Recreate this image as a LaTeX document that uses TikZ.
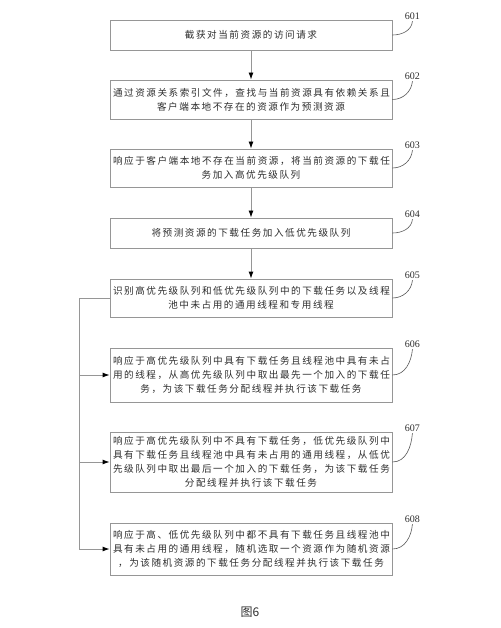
\documentclass[tikz,border=0pt]{standalone}
\usepackage{fontspec}
\setmainfont{Liberation Serif}
\newfontfamily\cjk[LetterSpace=16]{Noto Sans CJK SC}
\newfontfamily\cjkcap{Noto Sans CJK SC}
\usetikzlibrary{arrows.meta,positioning,calc}
\definecolor{boxgray}{RGB}{150,150,150}
\definecolor{inkgray}{RGB}{45,45,45}

\begin{document}
\begin{tikzpicture}[
    x=1pt, y=-1pt,
    stepbox/.style={draw=boxgray, line width=0.9pt, text=inkgray, align=center,
        text width=276pt, inner xsep=3pt, inner ysep=2pt,
        font=\cjk\fontsize{9.6}{14}\selectfont},
    arrow/.style={-{Latex[length=7pt, width=5pt, color=black]}, draw=boxgray, line width=0.9pt},
    num/.style={font=\fontsize{10}{12}\selectfont, text=inkgray, inner sep=1pt},
    leader/.style={draw=inkgray!80, line width=0.6pt}
]
\useasboundingbox (0,0) rectangle (500,628);

% Steps
\node[stepbox, minimum height=30pt] (s601) at (251,35) {截获对当前资源的访问请求};
\node[stepbox, minimum height=39pt] (s602) at (251,99.5) {通过资源关系索引文件，查找与当前资源具有依赖关系且\\客户端本地不存在的资源作为预测资源};
\node[stepbox, minimum height=38pt] (s603) at (251,168) {响应于客户端本地不存在当前资源，将当前资源的下载任\\务加入高优先级队列};
\node[stepbox, minimum height=30pt] (s604) at (251,233) {将预测资源的下载任务加入低优先级队列};
\node[stepbox, minimum height=38pt] (s605) at (251,298) {识别高优先级队列和低优先级队列中的下载任务以及线程\\池中未占用的通用线程和专用线程};
\node[stepbox, minimum height=54pt] (s606) at (251,375) {响应于高优先级队列中具有下载任务且线程池中具有未占\\用的线程，从高优先级队列中取出最先一个加入的下载任\\务，为该下载任务分配线程并执行该下载任务};
\node[stepbox, minimum height=60pt] (s607) at (251,462) {响应于高优先级队列中不具有下载任务，低优先级队列中\\具有下载任务且线程池中具有未占用的通用线程，从低优\\先级队列中取出最后一个加入的下载任务，为该下载任务\\分配线程并执行该下载任务};
\node[stepbox, minimum height=52pt] (s608) at (251,549) {响应于高、低优先级队列中都不具有下载任务且线程池中\\具有未占用的通用线程，随机选取一个资源作为随机资源\\，为该随机资源的下载任务分配线程并执行该下载任务};

% Step numbers
\foreach \s in {601,...,608}{
    \node[num] (l\s) at ([xshift=20pt, yshift=3pt]s\s.north east) {\s};
    \draw[leader] (s\s.east) to[out=0, in=-95] (l\s.south);
}

% Arrows
\draw[arrow] (s601) -- (s602);
\draw[arrow] (s602) -- (s603);
\draw[arrow] (s603) -- (s604);
\draw[arrow] (s604) -- (s605);

% Branches
\coordinate (bus) at ([xshift=-30pt]s605.west);
\draw[boxgray, line width=0.9pt] (s605.west) -- (bus);
\draw[arrow] (bus) |- (s608.west);
\draw[arrow] (bus |- s606.west) -- (s606.west);
\draw[arrow] (bus |- s607.west) -- (s607.west);

% Caption
\node[font=\cjkcap\fontsize{12}{14}\selectfont, text=inkgray] (cap) at (250,612) {图6};

\end{tikzpicture}
\end{document}
